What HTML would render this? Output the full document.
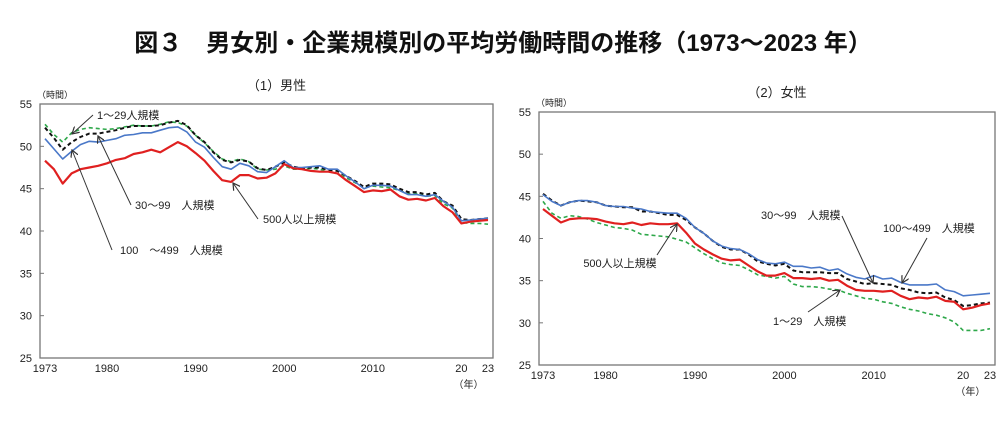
<!DOCTYPE html>
<html><head><meta charset="utf-8"><style>
body{margin:0;background:#fff;}
svg{display:block;font-family:"Liberation Sans","Noto Sans CJK JP",sans-serif;}
</style></head><body>
<svg id="s" width="1005" height="424" viewBox="0 0 1005 424">
<defs><marker id="ar" markerWidth="8" markerHeight="8" refX="7" refY="4" orient="auto"><path d="M0,0 L7,4 L0,8" fill="none" stroke="#333" stroke-width="1.2"/></marker></defs>
<text x="503" y="51" font-size="24" font-weight="bold" text-anchor="middle" fill="#111">図３　男女別・企業規模別の平均労働時間の推移（1973～2023 年）</text>
<g id="g"></g>
</svg>
<script>
var ns="http://www.w3.org/2000/svg",G=document.getElementById('g');
function el(t,a,txt){var e=document.createElementNS(ns,t);for(var k in a)e.setAttribute(k,a[k]);if(txt)e.textContent=txt;G.appendChild(e);return e;}
var M={r:[48.3,47.3,45.6,46.8,47.3,47.5,47.7,48.0,48.4,48.6,49.1,49.3,49.6,49.3,49.9,50.5,50.0,49.2,48.3,47.1,46.0,45.8,46.6,46.6,46.2,46.3,46.8,47.9,47.4,47.3,47.1,47.0,47.0,46.8,46.0,45.3,44.6,44.8,44.7,44.9,44.1,43.7,43.8,43.6,43.9,42.9,42.2,40.9,41.1,41.2,41.3],
b:[50.9,49.7,48.5,49.4,50.2,50.6,50.5,50.7,50.9,51.3,51.4,51.6,51.6,51.9,52.2,52.3,51.7,50.5,49.9,48.7,47.6,47.3,48.0,47.7,47.0,46.9,47.6,48.3,47.5,47.5,47.6,47.7,47.3,47.3,46.5,45.8,45.0,45.4,45.4,45.3,44.8,44.3,44.3,44.1,44.3,43.5,42.8,41.2,41.3,41.4,41.5],
k:[52.2,51.0,49.6,50.5,51.1,51.5,51.5,51.7,51.9,52.2,52.4,52.4,52.4,52.5,52.8,53.0,52.5,51.3,50.5,49.3,48.4,48.1,48.4,48.2,47.4,47.2,47.6,48.1,47.6,47.4,47.5,47.5,47.2,47.1,46.5,45.9,45.2,45.6,45.6,45.5,45.0,44.6,44.6,44.3,44.5,43.5,43.0,41.4,41.3,41.4,41.5],
g:[52.6,51.4,50.5,51.6,52.0,52.2,52.1,52.0,52.1,52.3,52.5,52.4,52.4,52.6,52.9,52.8,52.4,51.3,50.4,49.4,48.5,48.2,48.5,48.2,47.3,47.2,47.3,47.7,47.3,47.3,47.4,47.3,47.0,46.8,46.3,45.7,45.1,45.3,45.2,45.1,44.8,44.4,44.4,44.1,44.2,43.2,42.7,41.0,40.9,40.9,40.8]};
var W={b:[45.2,44.4,43.9,44.3,44.5,44.5,44.3,43.9,43.8,43.8,43.6,43.5,43.2,43.1,43.0,43.0,42.4,41.3,40.6,39.7,39.1,38.8,38.7,38.2,37.5,37.1,37.0,37.2,36.7,36.7,36.5,36.6,36.2,36.4,35.8,35.4,35.2,35.6,35.2,35.3,34.8,34.5,34.5,34.5,34.6,33.9,33.7,33.2,33.3,33.4,33.5],
k:[45.3,44.5,43.9,44.3,44.5,44.4,44.3,43.9,43.8,43.7,43.7,43.2,43.2,43.0,42.8,42.8,42.2,41.3,40.6,39.7,39.0,38.7,38.7,38.1,37.3,37.0,36.8,37.0,36.2,36.0,36.0,36.0,35.9,35.9,35.2,34.9,34.6,34.7,34.6,34.5,34.1,33.9,33.6,33.5,33.6,33.0,32.7,32.0,32.1,32.3,32.4],
r:[43.5,42.7,41.9,42.3,42.4,42.4,42.3,42.0,41.8,41.7,41.9,41.6,41.8,41.7,41.7,41.8,40.7,39.4,38.7,38.1,37.6,37.4,37.5,36.8,36.1,35.6,35.6,35.9,35.3,35.3,35.2,35.3,35.0,35.1,34.4,33.9,33.8,33.8,33.7,33.8,33.2,32.8,33.0,32.9,33.1,32.6,32.5,31.6,31.8,32.1,32.3],
g:[44.4,43.0,42.4,42.7,42.6,42.3,41.9,41.6,41.3,41.2,41.0,40.5,40.4,40.3,40.2,39.9,39.6,38.9,38.2,37.6,37.1,36.9,36.8,36.3,35.7,35.5,35.3,35.5,34.6,34.3,34.3,34.2,34.0,33.9,33.5,33.2,32.9,32.8,32.5,32.3,31.9,31.6,31.4,31.1,30.9,30.6,30.1,29.1,29.1,29.1,29.3]};
function chart(D,fx0,fx1,ft,fb,x73,x23,title,ty){
 var X=function(i){return x73+i*(x23-x73)/50},Y=function(v){return fb-(v-25)*(fb-ft)/30};
 el('rect',{x:fx0,y:ft,width:fx1-fx0,height:fb-ft,fill:'none',stroke:'#777','stroke-width':1.3});
 for(var v=25;v<=55;v+=5){el('text',{x:fx0-8,y:Y(v)+4,'font-size':11,'text-anchor':'end',fill:'#222'},''+v);el('line',{x1:fx0,x2:fx0+4,y1:Y(v),y2:Y(v),stroke:'#777'});}
 [[0,'1973'],[7,'1980'],[17,'1990'],[27,'2000'],[37,'2010'],[47,'20'],[50,'23']].forEach(function(t){el('text',{x:X(t[0]),y:fb+14,'font-size':11,'text-anchor':'middle',fill:'#222'},t[1]);});
 el('text',{x:X(47.8),y:fb+30,'font-size':10,'text-anchor':'middle',fill:'#222'},'（年）');
 el('text',{x:fx0-3,y:ft-6,'font-size':9,fill:'#222'},'（時間）');
 el('text',{x:(fx0+fx1)/2+10,y:ty,'font-size':13,'text-anchor':'middle',fill:'#222'},title);
 var st={g:['#2ea84a','4,3',1.6],k:['#111','4,3',2],b:['#4a78c8','',1.6],r:['#e02020','',2.2]};
 ['g','k','b','r'].forEach(function(s){var p=D[s].map(function(v,i){return X(i).toFixed(1)+','+Y(v).toFixed(1)}).join(' ');
  el('polyline',{points:p,fill:'none',stroke:st[s][0],'stroke-width':st[s][2],'stroke-dasharray':st[s][1],'stroke-linejoin':'round'});});
}
chart(M,40,493,104,358,45,488,'（1）男性',90);
chart(W,539,995,112,365,543,990,'（2）女性',97);
function ann(t,tx,ty,x1,y1,x2,y2,anc){el('text',{x:tx,y:ty,'font-size':11,fill:'#222','text-anchor':anc||'start'},t);el('line',{x1:x1,y1:y1,x2:x2,y2:y2,stroke:'#333','stroke-width':1,'marker-end':'url(#ar)'});}
ann('1～29人規模',97,119,93,115,72,134);
ann('30～99　人規模',135,209,131,205,98,136);
ann('100　～499　人規模',120,254,112,250,72,150);
ann('500人以上規模',263,223,258,219,233,183);
ann('500人以上規模',620,267,657,255,677,224,'middle');
ann('30～99　人規模',761,219,842,216,873,283);
ann('100～499　人規模',883,232,927,238,902,283);
ann('1～29　人規模',773,325,808,312,840,290);
</script>
</body></html>
